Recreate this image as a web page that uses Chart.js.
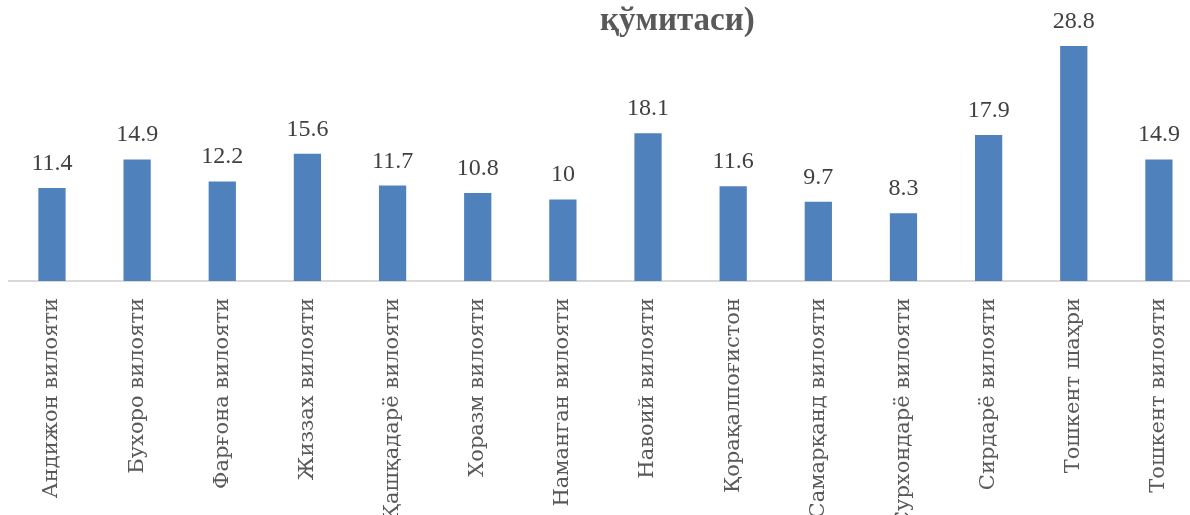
<!DOCTYPE html>
<html>
<head>
<meta charset="utf-8">
<script src="https://cdn.jsdelivr.net/npm/chart.js@4/dist/chart.umd.min.js"></script>
<style>
  html, body { margin: 0; padding: 0; background: #fff; overflow: hidden; }
  #wrap { position: absolute; left: 0; top: 0; width: 1202px; height: 515px; }
  #title {
    position: absolute; left: 600px; top: 1px;
    font: bold 33px "Liberation Serif", serif; color: #595959; white-space: nowrap;
  }
</style>
</head>
<body>
<div id="wrap"><canvas id="chart"></canvas></div>
<div id="title">қўмитаси)</div>
<script>
const regions = [
  'Андижон вилояти', 'Бухоро вилояти', 'Фарғона вилояти', 'Жиззах вилояти',
  'Қашқадарё вилояти', 'Хоразм вилояти', 'Наманган вилояти', 'Навоий вилояти',
  'Қорақалпоғистон', 'Самарқанд вилояти', 'Сурхондарё вилояти', 'Сирдарё вилояти',
  'Тошкент шаҳри', 'Тошкент вилояти',
];
const values = [11.4, 14.9, 12.2, 15.6, 11.7, 10.8, 10, 18.1, 11.6, 9.7, 8.3, 17.9, 28.8, 14.9];

const valueLabels = {
  id: 'valueLabels',
  afterDatasetsDraw(chart) {
    const ctx = chart.ctx;
    ctx.save();
    ctx.font = '24px "Liberation Serif", serif';
    ctx.fillStyle = '#404040';
    ctx.textAlign = 'center';
    ctx.textBaseline = 'alphabetic';
    chart.getDatasetMeta(0).data.forEach((bar, i) => {
      ctx.fillText(String(values[i]), bar.x, bar.y - 18);
    });
    ctx.restore();
  },
};

new Chart(document.querySelector('#chart'), {
  type: 'bar',
  data: {
    labels: regions,
    datasets: [{
      data: values,
      backgroundColor: '#4F81BD',
      borderWidth: 0,
      barPercentage: 0.32,
      categoryPercentage: 1,
    }],
  },
  options: {
    responsive: true,
    maintainAspectRatio: false,
    animation: false,
    layout: { padding: { left: 9.4, right: 0.5, top: 0, bottom: 0 } },
    plugins: {
      legend: { display: false },
      tooltip: { enabled: false },
    },
    scales: {
      x: {
        grid: { display: false },
        border: { color: '#D9D9D9', width: 2 },
        ticks: {
          color: '#595959',
          font: { family: '"DejaVu Serif", serif', size: 21 },
          minRotation: 90,
          maxRotation: 90,
          padding: 9,
          autoSkip: false,
        },
        afterFit: (axis) => { axis.height = 234; },
      },
      y: {
        display: false,
        min: 0,
        max: 34.44,
      },
    },
  },
  plugins: [valueLabels],
});
</script>
</body>
</html>
